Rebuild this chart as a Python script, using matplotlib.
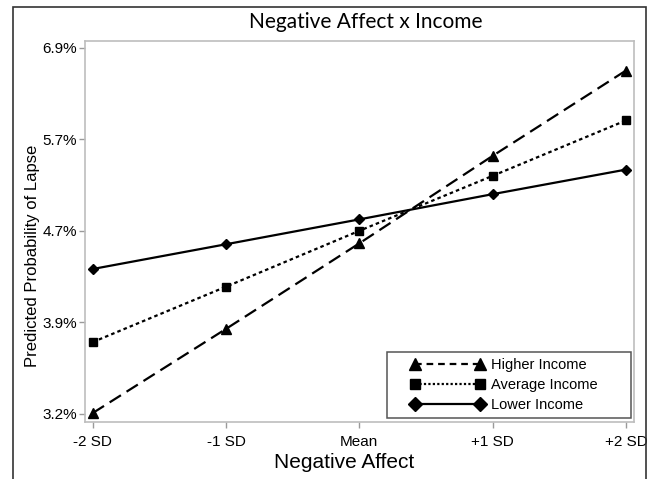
import numpy as np
import matplotlib
matplotlib.use("Agg")
import matplotlib.pyplot as plt
from matplotlib.lines import Line2D
from matplotlib.patches import Rectangle

# Dati (probabilità previste di lapse, in %)
x_labels = ["-2 SD", "-1 SD", "Mean", "+1 SD", "+2 SD"]
higher_income = [3.236, 3.864, 4.621, 5.540, 6.600]
average_income = [3.758, 4.221, 4.743, 5.316, 5.959]
lower_income = [4.380, 4.612, 4.857, 5.118, 5.385]

# Tick dell'asse y (in log-odds) e relative etichette
y_tick_logodds = [-3.4, -3.2, -3.0, -2.8, -2.6]
y_tick_labels = ["3.2%", "3.9%", "4.7%", "5.7%", "6.9%"]

plt.rcParams['font.family'] = ['Liberation Sans', 'DejaVu Sans']

W, H = 653, 479
fig = plt.figure(figsize=(W / 100, H / 100), dpi=100)
ax = fig.add_axes([85 / W, 1 - 422 / H, 549 / W, 381.4 / H])

x = np.arange(len(x_labels))
series = [
    ("Higher Income", higher_income, "^", 6.5, 9, (0, (6, 3)), (0, (3, 2.2))),
    ("Average Income", average_income, "s", 5.5, 7.5, (0, (1.6, 1.4)), (0, (1, 1))),
    ("Lower Income", lower_income, "D", 5, 7, "-", "-"),
]

handles = []
for name, vals, mk, ms, lms, ls, lls in series:
    p = np.array(vals) / 100.0
    ax.plot(x, p, color="black", linestyle=ls, linewidth=1.6,
            marker=mk, markersize=ms, markerfacecolor="black", markeredgecolor="black")
    handles.append(Line2D([0], [0], color="black", linestyle=lls, linewidth=1.6,
                          marker=mk, markersize=lms))

ax.set_yscale("logit")
y_ticks = [1 / (1 + np.exp(-v)) for v in y_tick_logodds]
ax.set_yticks(y_ticks)
ax.set_yticklabels(y_tick_labels)
ax.yaxis.set_minor_locator(matplotlib.ticker.NullLocator())
ax.set_ylim(1 / (1 + np.exp(3.4175)), 1 / (1 + np.exp(2.5845)))
ax.set_xlim(-0.058, 4.06)
ax.set_xticks(x)
ax.set_xticklabels(x_labels)

for s in ax.spines.values():
    s.set_color("#bdbdbd")
    s.set_linewidth(1.2)
ax.tick_params(axis="both", colors="#9a9a9a", length=4, width=1, labelcolor="black", labelsize=11)
ax.tick_params(axis="x", pad=5)
ax.tick_params(axis="y", pad=2)

fig.text(344.5 / W, 1 - 463 / H, "Negative Affect", fontsize=15, ha="center", va="center")
fig.text(33 / W, 1 - 255.5 / H, "Predicted Probability of Lapse", fontsize=12,
         rotation=90, ha="center", va="center")
fig.text(366 / W, 1 - 22 / H, "Negative Affect x Income", fontsize=15,
         family=["Lato", "DejaVu Sans"], ha="center", va="center")

# Legenda senza cornice, cornice disegnata a parte
leg = ax.legend(handles, [s[0] for s in series], loc="center left",
                bbox_to_anchor=(410.6 / W, 1 - 385.2 / H), bbox_transform=fig.transFigure,
                numpoints=2, handlelength=5.06, fontsize=10.5, frameon=False,
                borderpad=0, labelspacing=0.42, handletextpad=0.45, borderaxespad=0)
fig.patches.append(Rectangle((387 / W, 1 - 418 / H), 244 / W, 66 / H,
                             transform=fig.transFigure, fill=False,
                             edgecolor="#555555", linewidth=1.1))

# Cornice esterna
fig.patches.append(Rectangle((13 / W, -0.05), 633 / W, 1.05 - 7 / H,
                             transform=fig.transFigure, fill=False,
                             edgecolor="#333333", linewidth=1.2))

plt.savefig("out.png", dpi=100, facecolor="white")
